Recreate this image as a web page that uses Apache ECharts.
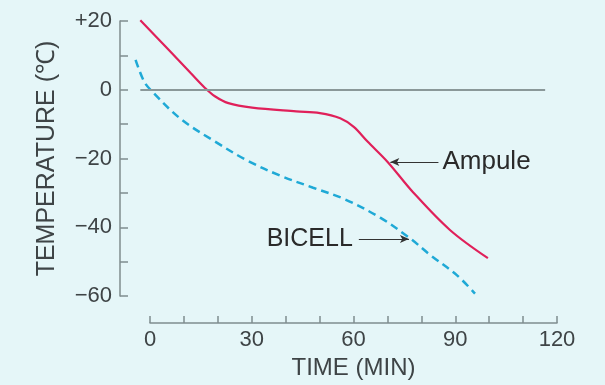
<!DOCTYPE html>
<html>
<head>
<meta charset="utf-8">
<script src="https://cdn.jsdelivr.net/npm/echarts@6/dist/echarts.min.js"></script>
<style>
html,body{margin:0;padding:0;background:#e5f6f8;}
#main{width:605px;height:385px;}
</style>
</head>
<body>
<div id="main"></div>
<script>
// time (min), temperature (C)
var ampuleTime = [-3, 5, 12, 16, 19, 23, 30, 43, 50, 56, 60, 64, 70, 77.5, 88.4, 99.6];
var ampuleTemp = [20.2, 12, 4.7, 0.6, -1.9, -3.9, -5.2, -6.3, -6.8, -8.3, -10.8, -15, -21, -29.8, -40.8, -49];
var bicellTime = [-4.4, -2, 0, 8.8, 18.6, 28.6, 38.3, 48, 57, 67.8, 76.7, 82.5, 90.5, 95.8];
var bicellTemp = [8.7, 2.6, 0, -8.4, -14.8, -20.6, -25, -28.5, -31.7, -37.2, -43.3, -48, -54, -59.3];
var xTicks = [0, 30, 60, 90, 120];
var yTicks = [-60, -40, -20, 0, 20];

function pairs(xs, ys){
    return xs.map(function(x, i){ return [x, ys[i]]; });
}

var myChart = echarts.init(document.getElementById('main'));
var axisColor = '#7f8d8e';
var textColor = '#3e4446';
var font = '"Liberation Sans", Arial, sans-serif';

option = {
    backgroundColor: '#e5f6f8',
    animation: false,
    grid: [
        {left: 120, right: 48, top: 21, bottom: 89},   // data + temperature axis
        {left: 150, right: 48, top: 21, bottom: 52}    // time axis only
    ],
    xAxis: [
        {
            gridIndex: 0, type: 'value', min: -9, max: 120, show: false
        },
        {
            gridIndex: 1,
            type: 'value',
            min: xTicks[0],
            max: xTicks[xTicks.length - 1],
            interval: 30,
            name: 'TIME (MIN)',
            nameLocation: 'middle',
            nameGap: 28,
            nameTextStyle: {color: textColor, fontSize: 24, fontFamily: font},
            axisLine: {onZero: false, lineStyle: {color: axisColor, width: 1.5}},
            axisTick: {inside: true, length: 7, lineStyle: {color: axisColor, width: 1.5}},
            minorTick: {show: true, splitNumber: 3, length: 7, lineStyle: {color: axisColor, width: 1.5}},
            axisLabel: {color: textColor, fontSize: 22, fontFamily: font, margin: 6},
            splitLine: {show: false}
        }
    ],
    yAxis: [
        {
            gridIndex: 0,
            type: 'value',
            min: yTicks[0],
            max: yTicks[yTicks.length - 1],
            interval: 20,
            name: 'TEMPERATURE (℃)',
            nameLocation: 'middle',
            nameGap: 60,
            nameRotate: 90,
            nameTextStyle: {color: textColor, fontSize: 25, fontFamily: font},
            axisLine: {show: true, onZero: false, lineStyle: {color: axisColor, width: 1.5}},
            axisTick: {show: true, inside: true, length: 8, lineStyle: {color: axisColor, width: 1.5}},
            minorTick: {show: true, splitNumber: 2, length: 8, lineStyle: {color: axisColor, width: 1.5}},
            axisLabel: {
                color: textColor, fontSize: 22, fontFamily: font, margin: 8,
                formatter: function(v){
                    if (v > 0) return '+' + v;
                    if (v < 0) return '\u2212' + (-v);
                    return '0';
                }
            },
            splitLine: {show: false}
        },
        {
            gridIndex: 1, type: 'value', min: -70, max: 20, show: false
        }
    ],
    series: [
        {
            name: 'Ampule',
            type: 'line',
            xAxisIndex: 0,
            yAxisIndex: 0,
            data: pairs(ampuleTime, ampuleTemp),
            smooth: 0.35,
            showSymbol: false,
            clip: false,
            lineStyle: {color: '#e0205a', width: 2.2},
            markLine: {
                silent: true,
                animation: false,
                data: [
                    [{coord: [-3, 0], symbol: 'none', lineStyle: {color: '#8a9899', width: 2, type: 'solid'}, label: {show: false}},
                     {coord: [116.5, 0], symbol: 'none'}],
                    [{coord: [85, -21], symbol: 'none', lineStyle: {color: '#333', width: 1.2, type: 'solid'},
                      label: {show: true, position: 'start', formatter: 'Ampule', color: '#2a2a2a', fontSize: 26, fontFamily: font, distance: 4}},
                     {coord: [70.8, -21], symbol: 'arrow', symbolSize: [6, 9]}]
                ]
            }
        },
        {
            name: 'BICELL',
            type: 'line',
            xAxisIndex: 0,
            yAxisIndex: 0,
            data: pairs(bicellTime, bicellTemp),
            smooth: 0.35,
            showSymbol: false,
            clip: false,
            lineStyle: {color: '#1fa9d6', width: 2.5, type: [8, 5]},
            markLine: {
                silent: true,
                animation: false,
                data: [
                    [{coord: [61.5, -43.4], symbol: 'none', lineStyle: {color: '#333', width: 1.2, type: 'solid'},
                      label: {show: true, position: 'start', formatter: 'BICELL', color: '#2a2a2a', fontSize: 25, fontFamily: font, distance: 6}},
                     {coord: [76.3, -43.4], symbol: 'arrow', symbolSize: [6, 9]}]
                ]
            }
        }
    ]
};
myChart.setOption(option);
</script>
</body>
</html>
